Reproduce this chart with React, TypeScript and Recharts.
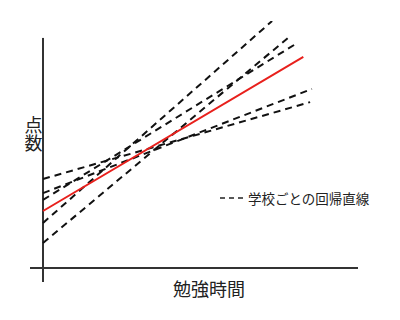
import React from "react";
import { LineChart, Line, XAxis, YAxis, ReferenceLine, Customized } from "recharts";

// School regression lines: start at x=0, end at (endX, endY)
const schoolStartY = [37.8, 31.8, 28.9, 19.1, 10.6];
const schoolEndX = [10.26, 10.33, 9.76, 8.8, 9.41];
const schoolEndY = [70.5, 76.1, 95.6, 105, 97.8];

// Overall regression line
const overallX = [0, 10];
const overallY = [24.2, 89.7];

const xLabel = "勉強時間";
const yLabel = "点数";
const legendText = "学校ごとの回帰直線";

const FONT = '"Noto Sans CJK JP", "Noto Sans", sans-serif';

const schoolSeries = schoolStartY.map((y0, i) => [
  { x: 0, y: y0 },
  { x: schoolEndX[i], y: schoolEndY[i] },
]);
const overallSeries = overallX.map((x, i) => ({ x, y: overallY[i] }));

const Annotations = () => (
  <g fontFamily={FONT} fill="#222">
    <text
      x={25.5}
      y={126}
      fontSize={18}
      textAnchor="middle"
      style={{ writingMode: "vertical-rl" as any }}
    >
      {yLabel}
    </text>
    <text x={201} y={280} fontSize={18} textAnchor="middle" dominantBaseline="central">
      {xLabel}
    </text>
    <line x1={212} y1={190} x2={238} y2={190} stroke="#222" strokeWidth={1.5} strokeDasharray="5 4" />
    <text x={240} y={190} fontSize={13.5} dominantBaseline="central">
      {legendText}
    </text>
  </g>
);

export default function App() {
  return (
    <LineChart width={400} height={320} margin={{ top: 13, right: 50, bottom: 46, left: 22 }}>
      <XAxis type="number" dataKey="x" domain={[-0.5, 12.1]} hide allowDataOverflow />
      <YAxis type="number" dataKey="y" domain={[-6, 105]} hide allowDataOverflow />
      <ReferenceLine
        segment={[{ x: -0.5, y: 0 }, { x: 12.1, y: 0 }]}
        stroke="#333"
        strokeWidth={2}
        ifOverflow="visible"
      />
      <ReferenceLine
        segment={[{ x: 0, y: -6 }, { x: 0, y: 97.8 }]}
        stroke="#333"
        strokeWidth={2}
        ifOverflow="visible"
      />
      {schoolSeries.map((d, i) => (
        <Line
          key={i}
          data={d}
          dataKey="y"
          type="linear"
          stroke="#111"
          strokeWidth={2}
          strokeDasharray="7 5"
          dot={false}
          activeDot={false}
          isAnimationActive={false}
        />
      ))}
      <Line
        data={overallSeries}
        dataKey="y"
        type="linear"
        stroke="#e8201c"
        strokeWidth={2}
        dot={false}
        activeDot={false}
        isAnimationActive={false}
      />
      <Customized component={Annotations} />
    </LineChart>
  );
}
